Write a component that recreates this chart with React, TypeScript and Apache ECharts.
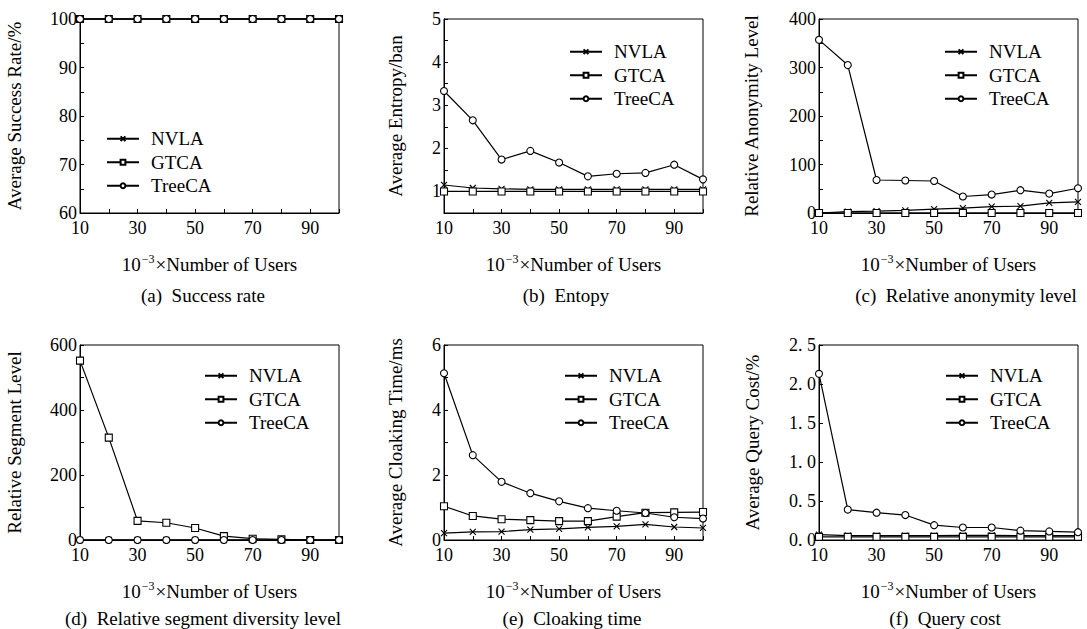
import React, { useEffect, useRef } from "react";
import * as echarts from "echarts";

const users = [10, 20, 30, 40, 50, 60, 70, 80, 90, 100];
const seriesNames = ["NVLA", "GTCA", "TreeCA"];

// (a) Success rate
const rateNVLA = [100, 100, 100, 100, 100, 100, 100, 100, 100, 100];
const rateGTCA = [100, 100, 100, 100, 100, 100, 100, 100, 100, 100];
const rateTreeCA = [100, 100, 100, 100, 100, 100, 100, 100, 100, 100];

// (b) Entropy
const entropyNVLA = [1.15, 1.08, 1.06, 1.05, 1.05, 1.05, 1.05, 1.05, 1.05, 1.05];
const entropyGTCA = [1, 1, 1, 1, 1, 1, 1, 1, 1, 1];
const entropyTreeCA = [3.33, 2.65, 1.74, 1.94, 1.67, 1.35, 1.41, 1.43, 1.62, 1.28];

// (c) Relative anonymity level
const anonNVLA = [0, 3, 4, 5.5, 8, 10, 13, 14, 21, 23];
const anonGTCA = [0, 0, 0, 0, 0, 0, 0, 0, 0, 0];
const anonTreeCA = [357, 305, 68, 67, 66, 34, 38, 47, 40, 51];

// (d) Relative segment diversity level
const segNVLA = [0, 0, 0, 0, 0, 0, 0, 0, 0, 0];
const segGTCA = [552, 315, 59, 53, 37, 12, 4, 2, 0, 0];
const segTreeCA = [0, 0, 0, 0, 0, 0, 0, 0, 0, 0];

// (e) Cloaking time
const timeNVLA = [0.21, 0.25, 0.26, 0.32, 0.34, 0.39, 0.42, 0.48, 0.4, 0.37];
const timeGTCA = [1.04, 0.74, 0.64, 0.61, 0.58, 0.58, 0.72, 0.84, 0.85, 0.86];
const timeTreeCA = [5.13, 2.61, 1.79, 1.44, 1.19, 0.98, 0.9, 0.83, 0.7, 0.66];

// (f) Query cost
const costNVLA = [0.07, 0.055, 0.055, 0.055, 0.055, 0.06, 0.06, 0.055, 0.055, 0.055];
const costGTCA = [0.04, 0.04, 0.04, 0.04, 0.04, 0.04, 0.04, 0.04, 0.04, 0.04];
const costTreeCA = [2.13, 0.39, 0.35, 0.32, 0.19, 0.16, 0.16, 0.12, 0.11, 0.1];

const yTitles = [
  "Average Success Rate/%",
  "Average Entropy/ban",
  "Relative Anonymity Level",
  "Relative Segment Level",
  "Average Cloaking Time/ms",
  "Average Query Cost/%",
];
const captions = [
  "(a)  Success rate",
  "(b)  Entopy",
  "(c)  Relative anonymity level",
  "(d)  Relative segment diversity level",
  "(e)  Cloaking time",
  "(f)  Query cost",
];

const FONT = '"Liberation Serif", "Times New Roman", serif';

export default function App() {
  const ref = useRef<HTMLDivElement>(null);
  useEffect(() => {
    if (!ref.current) return;
    const chart = echarts.init(ref.current, null, { renderer: "svg" });

    const panels = [
      { data: [rateNVLA, rateGTCA, rateTreeCA], min: 60, max: 100, interval: 5, labelStep: 10, fmt: (v: number) => String(v) },
      { data: [entropyNVLA, entropyGTCA, entropyTreeCA], min: 0.5, max: 5, interval: 0.5, labelStep: 1, fmt: (v: number) => String(v) },
      { data: [anonNVLA, anonGTCA, anonTreeCA], min: 0, max: 400, interval: 50, labelStep: 100, fmt: (v: number) => String(v) },
      { data: [segNVLA, segGTCA, segTreeCA], min: 0, max: 600, interval: 100, labelStep: 200, fmt: (v: number) => String(v) },
      { data: [timeNVLA, timeGTCA, timeTreeCA], min: 0, max: 6, interval: 1, labelStep: 2, fmt: (v: number) => String(v) },
      { data: [costNVLA, costGTCA, costTreeCA], min: 0, max: 2.5, interval: 0.5, labelStep: 0.5, fmt: (v: number) => v.toFixed(1).replace(".", ". ") },
    ];

    const lefts = [80, 444, 819];
    const tops = [19, 345];
    const W = 259;
    const H = [194, 195];
    const nameGaps = [56, 39, 58, 56, 39, 57];
    const legendPos = [
      [106, 127], [569, 40], [944, 40],
      [204, 364], [564, 364], [945, 364],
    ];
    const captionPos = [
      [203, 295], [566, 295], [966, 295],
      [203, 618], [572, 618], [945, 618],
    ];

    const symbols = ["path://M0,0L10,10M10,0L0,10", "rect", "circle"];
    const symbolSizes = [6, 7, 7];

    const grid: any[] = [];
    const xAxis: any[] = [];
    const yAxis: any[] = [];
    const series: any[] = [];
    const legend: any[] = [];
    const graphic: any[] = [];

    panels.forEach((p, i) => {
      const col = i % 3;
      const row = Math.floor(i / 3);
      grid.push({
        left: lefts[col],
        top: tops[row],
        width: W,
        height: H[row],
        show: true,
        borderColor: "#000",
        borderWidth: 1,
        backgroundColor: "transparent",
      });
      xAxis.push({
        type: "value",
        gridIndex: i,
        min: 10,
        max: 100,
        interval: 10,
        axisLine: { show: true, lineStyle: { color: "#000", width: 1 } },
        axisTick: { show: true, inside: true, length: 4, lineStyle: { color: "#000" } },
        splitLine: { show: false },
        axisLabel: {
          margin: 6,
          color: "#000",
          fontFamily: FONT,
          fontSize: 18,
          formatter: (v: number) => (Math.round(v / 10) % 2 === 1 ? String(v) : ""),
        },
        name: "{n|10}{s|−3}{n|×Number of Users}",
        nameLocation: "middle",
        nameGap: 40,
        nameTextStyle: {
          color: "#000",
          rich: {
            n: { fontFamily: FONT, fontSize: 19, color: "#000", lineHeight: 22 },
            s: { fontFamily: FONT, fontSize: 12, color: "#000", verticalAlign: "top", lineHeight: 12, padding: [0, 1, 0, 1] },
          },
        },
      });
      yAxis.push({
        type: "value",
        gridIndex: i,
        min: p.min,
        max: p.max,
        interval: p.interval,
        axisLine: { show: true, lineStyle: { color: "#000", width: 1 } },
        axisTick: { show: true, inside: true, length: 4, lineStyle: { color: "#000" } },
        splitLine: { show: false },
        axisLabel: {
          margin: 3,
          color: "#000",
          fontFamily: FONT,
          fontSize: 18,
          formatter: (v: number) => {
            const r = v / p.labelStep;
            return Math.abs(r - Math.round(r)) < 1e-6 ? p.fmt(v) : "";
          },
        },
        name: yTitles[i],
        nameLocation: "middle",
        nameGap: nameGaps[i],
        nameTextStyle: { color: "#000", fontFamily: FONT, fontSize: 19 },
      });
      p.data.forEach((vals, k) => {
        series.push({
          type: "line",
          name: seriesNames[k],
          xAxisIndex: i,
          yAxisIndex: i,
          data: users.map((u, j) => [u, vals[j]]),
          symbol: symbols[k],
          symbolSize: symbolSizes[k],
          showAllSymbol: true,
          clip: false,
          lineStyle: { color: "#000", width: 1.2 },
          itemStyle: {
            color: k === 0 ? "#000" : "#fff",
            borderColor: "#000",
            borderWidth: 1.1,
          },
          z: 3 + k,
        });
      });
      legend.push({
        data: seriesNames,
        orient: "vertical",
        left: legendPos[i][0],
        top: legendPos[i][1],
        padding: 0,
        itemGap: 0,
        itemWidth: 32,
        itemHeight: 6,
        selectedMode: false,
        textStyle: {
          fontFamily: FONT,
          fontSize: 19,
          color: "#000",
          lineHeight: 23.5,
          padding: [0, 0, 0, 7],
        },
      });
      graphic.push({
        type: "text",
        x: captionPos[i][0],
        y: captionPos[i][1],
        style: {
          text: captions[i],
          fontFamily: FONT,
          fontSize: 19,
          fill: "#000",
          align: "center",
          verticalAlign: "middle",
        },
      });
    });

    chart.setOption({
      animation: false,
      backgroundColor: "#fff",
      grid,
      xAxis,
      yAxis,
      series,
      legend,
      graphic,
    });
    return () => chart.dispose();
  }, []);

  return (
    <div
      ref={ref}
      style={{ position: "absolute", left: 0, top: 0, width: 1087, height: 629 }}
    />
  );
}
